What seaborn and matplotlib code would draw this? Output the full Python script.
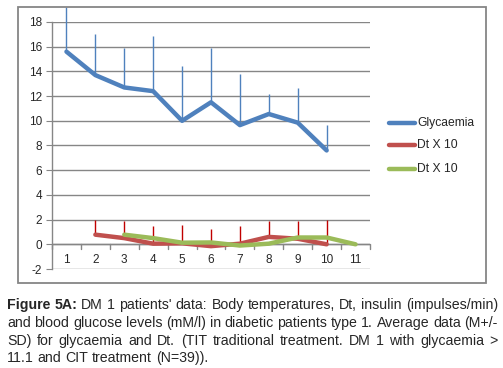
import numpy as np
import pandas as pd
import matplotlib
matplotlib.use("Agg")
import matplotlib.pyplot as plt
import seaborn as sns
from matplotlib.patches import Rectangle

# values
glyc_x = [1, 2, 3, 4, 5, 6, 7, 8, 9, 10]
glyc = [15.6, 13.7, 12.7, 12.4, 10.0, 11.5, 9.65, 10.55, 9.85, 7.6]
glyc_top = [19.2, 17.0, 15.9, 16.9, 14.4, 15.9, 13.8, 12.2, 12.65, 9.65]

dt1_x = [2, 3, 4, 5, 6, 7, 8, 9, 10]
dt1 = [0.78, 0.5, 0.05, 0.08, -0.15, 0.05, 0.6, 0.45, 0.0]
dt1_top = [2.0, 1.85, 1.45, 1.55, 1.27, 1.48, 1.9, 1.9, 2.0]

dt2_x = [3, 4, 5, 6, 7, 8, 9, 10, 11]
dt2 = [0.78, 0.5, 0.13, 0.15, -0.1, 0.05, 0.55, 0.55, 0.0]

categories = list(range(1, 12))
yticks = list(range(-2, 19, 2))

blue, red, green = "#4F81BD", "#C0504D", "#9BBB59"

caption = [
    ("Figure 5A: DM 1 patients' data: Body temperatures, Dt, insulin (impulses/min)", True),
    ("and blood glucose levels (mM/l) in diabetic patients type 1.  Average data (M+/-", True),
    ("SD) for glycaemia and Dt. (TIT traditional treatment. DM 1 with glycaemia >", True),
    ("11.1 and CIT treatment (N=39)).", False),
]

sns.set_style("white")
plt.rcParams['font.family'] = ['Liberation Sans', 'DejaVu Sans']

W, H = 503, 368
fig = plt.figure(figsize=(W / 100, H / 100), dpi=100)
fig.patch.set_facecolor("white")

# chart area border
fig.patches.append(Rectangle((18 / W, 1 - 283 / H), (486 - 18) / W, (283 - 7) / H,
                             transform=fig.transFigure, fill=False,
                             edgecolor="#868686", lw=1.3))

ax = fig.add_axes([52 / W, 1 - 269 / H, 318 / W, (269 - 22) / H])

df = pd.concat([
    pd.DataFrame({"day": glyc_x, "val": glyc, "series": "Glycaemia"}),
    pd.DataFrame({"day": dt1_x, "val": dt1, "series": "Dt X 10 "}),
    pd.DataFrame({"day": dt2_x, "val": dt2, "series": "Dt X 10"}),
])

# error bars (upper only)
ax.vlines(glyc_x, glyc, glyc_top, color=blue, lw=1, clip_on=False, zorder=3)
ax.vlines(dt1_x, dt1, dt1_top, color="#C00000", lw=1, zorder=3)

sns.lineplot(data=df, x="day", y="val", hue="series", sort=False,
             palette={"Glycaemia": blue, "Dt X 10 ": red, "Dt X 10": green},
             lw=3.2, ax=ax, legend=False, zorder=4)

ax.set_xlim(0.5, 11.5)
ax.set_ylim(-2, 18)
ax.set_yticks(yticks)
ax.set_yticklabels([str(v) for v in yticks], fontsize=8.5)
ax.set_xticks([])
ax.set_xlabel("")
ax.set_ylabel("")
ax.grid(axis="y", color="#868686", lw=1)
ax.grid(axis="x", visible=False)
for s in ["top", "right", "bottom"]:
    ax.spines[s].set_visible(False)
ax.spines["left"].set_color("#868686")
ax.spines["left"].set_linewidth(1)
ax.tick_params(axis="y", length=4, color="#868686", pad=3, left=True)

# category axis at zero
ax.axhline(0, color="#868686", lw=1, zorder=2)
for b in np.arange(0.5, 12, 1):
    ax.plot([b, b], [0, -0.35], color="#868686", lw=1, zorder=2, clip_on=False)
for c in categories:
    ax.text(c, -1.3, str(c), ha="center", va="center", fontsize=8.5)

# legend
items = [("Glycaemia", blue, 122.7), ("Dt X 10", red, 145), ("Dt X 10", green, 169)]
for label, col, ypix in items:
    yy = 1 - ypix / H
    fig.add_artist(plt.Line2D([389 / W, 415 / W], [yy, yy], color=col, lw=3.2,
                              transform=fig.transFigure))
    fig.text(417 / W, yy, label, ha="left", va="center", fontsize=8.7)

# justified caption
renderer = fig.canvas.get_renderer()
fs = 10.2
x0, x1 = 7, 498
line_y = [305, 323, 341, 358]
probe1 = fig.text(0, 0, "a a", fontsize=fs)
probe2 = fig.text(0, 0, "aa", fontsize=fs)
space = probe1.get_window_extent(renderer).width - probe2.get_window_extent(renderer).width
probe1.remove()
probe2.remove()
for (line, justify), ypix in zip(caption, line_y):
    words = [w for w in line.split(" ") if w]
    texts = []
    for i, w in enumerate(words):
        bold = line.startswith("Figure 5A:") and i < 2
        t = fig.text(0, 1 - ypix / H, w, ha="left", va="center", fontsize=fs,
                     fontweight="bold" if bold else "normal")
        texts.append(t)
    widths = [t.get_window_extent(renderer).width for t in texts]
    if justify:
        gap = (x1 - x0 - sum(widths)) / (len(words) - 1)
    else:
        gap = space
    x = x0
    for t, wd in zip(texts, widths):
        t.set_x(x / W)
        x += wd + gap

fig.savefig("out.png", dpi=100, facecolor="white")
